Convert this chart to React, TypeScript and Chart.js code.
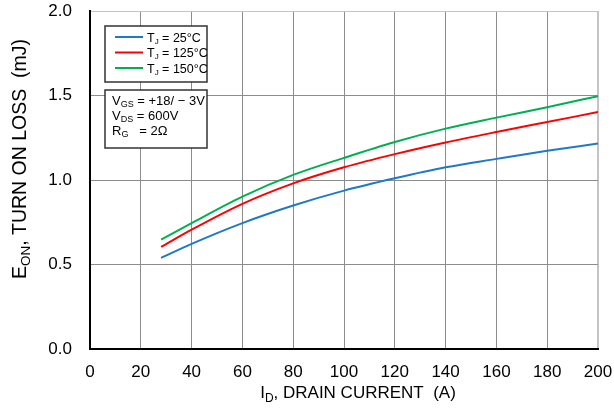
import React, { useEffect, useRef } from "react";
import { Chart, registerables } from "chart.js";

Chart.register(...registerables);

const currents = [28, 40, 60, 80, 100, 120, 140, 160, 180, 200];
const eon25 = [0.539, 0.622, 0.745, 0.849, 0.937, 1.01, 1.075, 1.125, 1.173, 1.216];
const eon125 = [0.604, 0.706, 0.859, 0.98, 1.075, 1.153, 1.222, 1.284, 1.343, 1.402];
const eon150 = [0.647, 0.745, 0.902, 1.03, 1.131, 1.225, 1.304, 1.369, 1.431, 1.496];

const seriesLabels = ["25°C", "125°C", "150°C"];
const seriesColors = ["#1f78c8", "#ff0000", "#00b050"];
const conditionLines = [
  [{ t: "V" }, { t: "GS", sub: true }, { t: " = +18/ − 3V" }],
  [{ t: "V" }, { t: "DS", sub: true }, { t: " = 600V" }],
  [{ t: "R" }, { t: "G", sub: true }, { t: "   = 2Ω" }],
];

const FONT = "'Liberation Sans', Arial, Helvetica, sans-serif";

type Part = { t: string; sub?: boolean };

function richWidth(ctx: CanvasRenderingContext2D, parts: Part[], size: number, subSize: number) {
  let w = 0;
  for (const p of parts) {
    ctx.font = `${p.sub ? subSize : size}px ${FONT}`;
    w += ctx.measureText(p.t).width;
  }
  return w;
}

function drawRich(
  ctx: CanvasRenderingContext2D,
  parts: Part[],
  x: number,
  y: number,
  size: number,
  subSize: number,
  subDrop: number
) {
  let cx = x;
  ctx.textAlign = "left";
  ctx.textBaseline = "alphabetic";
  for (const p of parts) {
    ctx.font = `${p.sub ? subSize : size}px ${FONT}`;
    ctx.fillText(p.t, cx, p.sub ? y + subDrop : y);
    cx += ctx.measureText(p.t).width;
  }
}

const overlayPlugin = {
  id: "overlay",
  afterDraw(chart: any) {
    const ctx: CanvasRenderingContext2D = chart.ctx;
    ctx.save();
    ctx.fillStyle = "#000";

    // X axis title
    const xt: Part[] = [{ t: "I" }, { t: "D", sub: true }, { t: ", DRAIN CURRENT  (A)" }];
    const xw = richWidth(ctx, xt, 17, 12);
    drawRich(ctx, xt, 358 - xw / 2, 398, 17, 12, 4);

    // Y axis title
    const yt: Part[] = [{ t: "E" }, { t: "ON", sub: true }, { t: ", TURN ON LOSS  (mJ)" }];
    const yw = richWidth(ctx, yt, 19.5, 13.5);
    ctx.save();
    ctx.translate(26, 159);
    ctx.rotate(-Math.PI / 2);
    drawRich(ctx, yt, -yw / 2, 0, 19.5, 13.5, 4);
    ctx.restore();

    // Legend box
    ctx.fillStyle = "#fff";
    ctx.fillRect(105, 26, 102, 56);
    ctx.strokeStyle = "#333";
    ctx.lineWidth = 1.5;
    ctx.strokeRect(105, 26, 102, 56);
    chart.data.datasets.forEach((ds: any, i: number) => {
      const yy = 37 + i * 15.5;
      ctx.strokeStyle = ds.borderColor;
      ctx.lineWidth = 2;
      ctx.beginPath();
      ctx.moveTo(115, yy);
      ctx.lineTo(143, yy);
      ctx.stroke();
      ctx.fillStyle = "#000";
      drawRich(
        ctx,
        [{ t: "T" }, { t: "J", sub: true }, { t: " = " + seriesLabels[i] }],
        147,
        yy + 4.5,
        12.5,
        8,
        2
      );
    });

    // Conditions box
    ctx.fillStyle = "#fff";
    ctx.fillRect(105, 90, 102, 58);
    ctx.strokeStyle = "#333";
    ctx.lineWidth = 1.5;
    ctx.strokeRect(105, 90, 102, 58);
    ctx.fillStyle = "#000";
    conditionLines.forEach((line, i) => {
      drawRich(ctx, line as Part[], 112, 105 + i * 15, 13, 9, 2);
    });

    ctx.restore();
  },
};

export default function App() {
  const ref = useRef<HTMLCanvasElement | null>(null);

  useEffect(() => {
    if (!ref.current) return;
    const mk = (vals: number[], i: number) => ({
      label: "T = " + seriesLabels[i],
      data: currents.map((c, k) => ({ x: c, y: vals[k] })),
      borderColor: seriesColors[i],
      backgroundColor: seriesColors[i],
      borderWidth: 2,
      pointRadius: 0,
      cubicInterpolationMode: "monotone" as const,
      fill: false,
    });
    const chart = new Chart(ref.current, {
      type: "line",
      data: {
        datasets: [mk(eon25, 0), mk(eon125, 1), mk(eon150, 2)],
      },
      options: {
        animation: false,
        responsive: false,
        maintainAspectRatio: false,
        layout: { padding: { top: 11, right: 16, left: 0, bottom: 0 } },
        plugins: {
          legend: { display: false },
          tooltip: { enabled: false },
          title: { display: false },
        },
        scales: {
          x: {
            type: "linear",
            min: 0,
            max: 200,
            ticks: {
              stepSize: 20,
              color: "#000",
              font: { family: FONT, size: 17 },
              padding: 13,
              maxRotation: 0,
            },
            grid: {
              drawTicks: false,
              color: (c: any) =>
                c.index === 0 ? "rgba(0,0,0,0)" : c.index === 10 ? "#c4c4c4" : "#8c8c8c",
              lineWidth: (c: any) => (c.index === 10 ? 2 : 1),
            },
            border: { color: "#000", width: 2 },
            afterFit: (s: any) => {
              s.height = 65;
              s.paddingLeft = 0;
              s.paddingRight = 0;
              s.paddingTop = 0;
              s.paddingBottom = 0;
            },
          },
          y: {
            type: "linear",
            min: 0,
            max: 2,
            ticks: {
              stepSize: 0.5,
              color: "#000",
              font: { family: FONT, size: 17 },
              padding: 18,
              callback: (v: any) => Number(v).toFixed(1),
            },
            grid: {
              drawTicks: false,
              color: (c: any) =>
                c.index === 0 ? "rgba(0,0,0,0)" : c.index === 4 ? "#c4c4c4" : "#8c8c8c",
              lineWidth: 1,
            },
            border: { color: "#000", width: 2 },
            afterFit: (s: any) => {
              s.width = 90;
              s.paddingLeft = 0;
              s.paddingRight = 0;
              s.paddingTop = 0;
              s.paddingBottom = 0;
            },
          },
        },
      },
      plugins: [overlayPlugin],
    });
    return () => chart.destroy();
  }, []);

  return (
    <div style={{ position: "absolute", left: 0, top: 0, width: 614, height: 414, background: "#fff" }}>
      <canvas ref={ref} width={614} height={414} style={{ display: "block" }} />
    </div>
  );
}
